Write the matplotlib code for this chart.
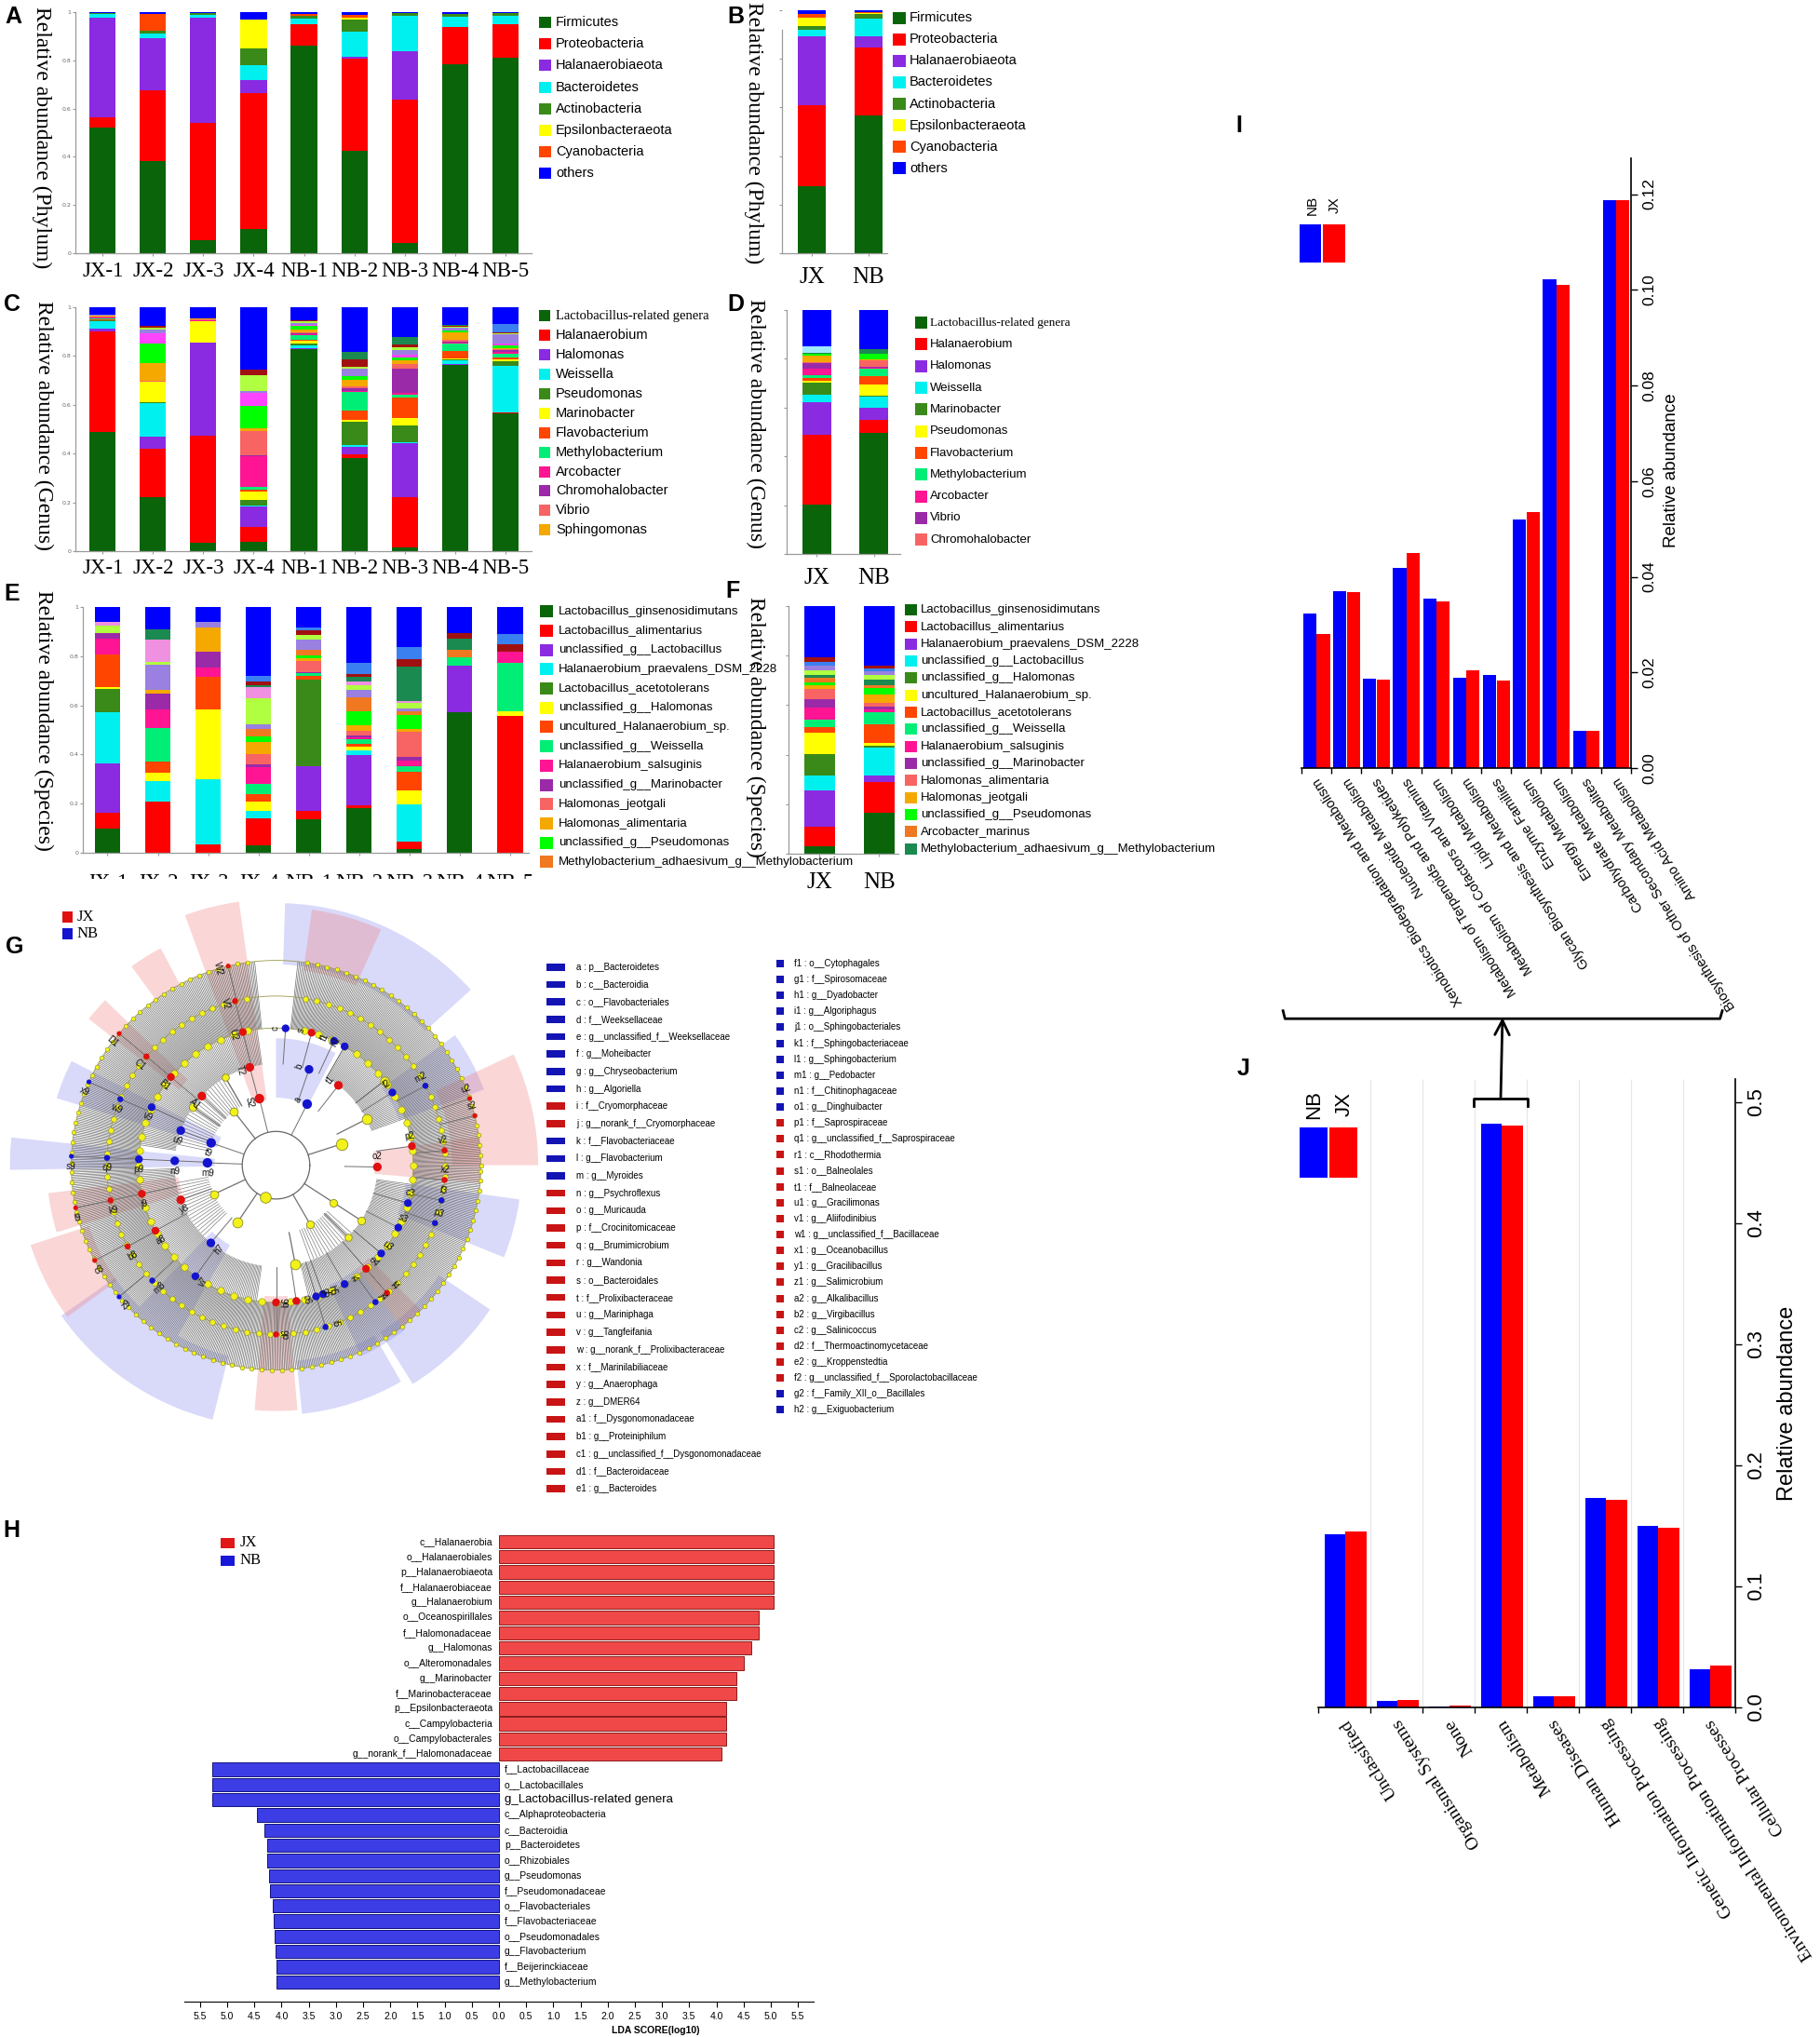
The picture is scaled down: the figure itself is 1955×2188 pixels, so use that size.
import numpy as np
import matplotlib
matplotlib.use("Agg")
import matplotlib.pyplot as plt
from matplotlib import font_manager
from matplotlib.patches import Rectangle
from matplotlib.lines import Line2D
from matplotlib.transforms import Bbox, TransformedBbox

# ---------------------------------------------------------------- colours
DG, RED, PUR, CYA = "#0a640a", "#ff0000", "#8a2be2", "#00f0f0"
OLV, YEL, ORR, SPG = "#3a8a1a", "#ffff00", "#ff4500", "#00ee76"
DPK, DMG, SAL, GLD = "#ff1493", "#9a2aa8", "#f86464", "#f5a800"
LIM, ORG, SEA, BLU = "#00ff00", "#f07820", "#1a8a50", "#0000ff"
LAV, GYL, PLM, DRD = "#9a80e0", "#b0ff40", "#f090e0", "#a01010"
DOD, LCY, MAG = "#3a80f0", "#a0e8ff", "#ff44ff"

# ---------------------------------------------------------------- data
samples = ["JX-1", "JX-2", "JX-3", "JX-4", "NB-1", "NB-2", "NB-3", "NB-4", "NB-5"]
groups = ["JX", "NB"]

# A / B : phylum
phylum_names = ["Firmicutes", "Proteobacteria", "Halanaerobiaeota", "Bacteroidetes",
                "Actinobacteria", "Epsilonbacteraeota", "Cyanobacteria", "others"]
phylum_colors = [DG, RED, PUR, CYA, OLV, YEL, ORR, BLU]
phylum_samples = [
    [0.520, 0.381, 0.054, 0.099, 0.861, 0.426, 0.043, 0.785, 0.810],
    [0.045, 0.294, 0.485, 0.566, 0.090, 0.380, 0.593, 0.153, 0.138],
    [0.410, 0.215, 0.438, 0.055, 0.000, 0.007, 0.200, 0.002, 0.000],
    [0.017, 0.022, 0.013, 0.061, 0.023, 0.106, 0.149, 0.039, 0.035],
    [0.003, 0.010, 0.005, 0.067, 0.009, 0.051, 0.010, 0.013, 0.013],
    [0.000, 0.000, 0.001, 0.120, 0.000, 0.007, 0.000, 0.000, 0.000],
    [0.002, 0.069, 0.002, 0.000, 0.011, 0.013, 0.002, 0.002, 0.002],
    [0.003, 0.009, 0.002, 0.032, 0.006, 0.010, 0.003, 0.006, 0.002],
]
phylum_groups = [  # columns: JX, NB
    [0.274, 0.567], [0.334, 0.280], [0.284, 0.047], [0.029, 0.070],
    [0.015, 0.021], [0.032, 0.002], [0.017, 0.005], [0.015, 0.008],
]

# C : genus by sample
genus_c_names = ["Lactobacillus-related genera", "Halanaerobium", "Halomonas", "Weissella",
                 "Pseudomonas", "Marinobacter", "Flavobacterium", "Methylobacterium",
                 "Arcobacter", "Chromohalobacter", "Vibrio", "Sphingomonas"]
genus_c_colors = [DG, RED, PUR, CYA, OLV, YEL, ORR, SPG, DPK, DMG, SAL, GLD]
genus_c_values = [
    [0.490, 0.220, 0.034, 0.040, 0.828, 0.382, 0.017, 0.765, 0.565],
    [0.410, 0.200, 0.440, 0.060, 0.002, 0.015, 0.205, 0.000, 0.002],
    [0.013, 0.050, 0.380, 0.085, 0.003, 0.030, 0.220, 0.003, 0.003],
    [0.030, 0.135, 0.000, 0.003, 0.012, 0.010, 0.003, 0.015, 0.190],
    [0.002, 0.005, 0.002, 0.022, 0.008, 0.095, 0.070, 0.004, 0.020],
    [0.003, 0.085, 0.085, 0.035, 0.010, 0.005, 0.030, 0.003, 0.005],
    [0.003, 0.000, 0.002, 0.008, 0.004, 0.040, 0.085, 0.030, 0.010],
    [0.004, 0.000, 0.000, 0.010, 0.020, 0.075, 0.012, 0.033, 0.015],
    [0.002, 0.000, 0.003, 0.125, 0.002, 0.005, 0.005, 0.002, 0.008],
    [0.002, 0.000, 0.000, 0.005, 0.003, 0.010, 0.100, 0.005, 0.005],
    [0.003, 0.005, 0.006, 0.100, 0.004, 0.010, 0.020, 0.008, 0.005],
    [0.003, 0.070, 0.003, 0.012, 0.012, 0.025, 0.015, 0.030, 0.005],
]
genus_c_minor_colors = [LIM, MAG, LAV, GYL, DRD, SEA, DOD]
genus_c_minor = [
    [0.002, 0.080, 0.000, 0.090, 0.015, 0.015, 0.012, 0.005, 0.012],
    [0.000, 0.045, 0.000, 0.055, 0.003, 0.000, 0.010, 0.003, 0.005],
    [0.003, 0.015, 0.000, 0.008, 0.010, 0.030, 0.020, 0.010, 0.040],
    [0.000, 0.005, 0.000, 0.065, 0.008, 0.010, 0.010, 0.003, 0.005],
    [0.000, 0.010, 0.000, 0.020, 0.003, 0.030, 0.015, 0.005, 0.003],
    [0.000, 0.000, 0.000, 0.000, 0.000, 0.030, 0.030, 0.005, 0.000],
    [0.000, 0.000, 0.000, 0.000, 0.000, 0.000, 0.000, 0.000, 0.035],
]
genus_c_others = [0.030, 0.075, 0.045, 0.257, 0.053, 0.183, 0.121, 0.071, 0.067]

# D : genus by group
genus_d_names = ["Lactobacillus-related genera", "Halanaerobium", "Halomonas", "Weissella",
                 "Marinobacter", "Pseudomonas", "Flavobacterium", "Methylobacterium",
                 "Arcobacter", "Vibrio", "Chromohalobacter"]
genus_d_colors = [DG, RED, PUR, CYA, OLV, YEL, ORR, SPG, DPK, DMG, SAL]
genus_d_values = [
    [0.204, 0.497], [0.284, 0.051], [0.134, 0.051], [0.032, 0.047],
    [0.047, 0.004], [0.010, 0.044], [0.012, 0.035], [0.008, 0.029],
    [0.030, 0.005], [0.020, 0.004], [0.005, 0.025],
]
genus_d_minor_colors = [GLD, LIM, SEA, LCY]
genus_d_minor = [[0.028, 0.004], [0.005, 0.026], [0.004, 0.019], [0.030, 0.000]]
genus_d_others = [0.147, 0.159]

# E : species by sample
species_e_names = ["Lactobacillus_ginsenosidimutans", "Lactobacillus_alimentarius",
                   "unclassified_g__Lactobacillus", "Halanaerobium_praevalens_DSM_2228",
                   "Lactobacillus_acetotolerans", "unclassified_g__Halomonas",
                   "uncultured_Halanaerobium_sp.", "unclassified_g__Weissella",
                   "Halanaerobium_salsuginis", "unclassified_g__Marinobacter",
                   "Halomonas_jeotgali", "Halomonas_alimentaria",
                   "unclassified_g__Pseudomonas",
                   "Methylobacterium_adhaesivum_g__Methylobacterium"]
species_e_colors = [DG, RED, PUR, CYA, OLV, YEL, ORR, SPG, DPK, DMG, SAL, GLD, LIM, ORG]
species_e_values = [
    [0.099, 0.000, 0.000, 0.029, 0.137, 0.180, 0.016, 0.573, 0.000],
    [0.063, 0.209, 0.035, 0.113, 0.035, 0.015, 0.030, 0.000, 0.556],
    [0.202, 0.000, 0.000, 0.000, 0.182, 0.203, 0.000, 0.189, 0.000],
    [0.209, 0.083, 0.266, 0.029, 0.000, 0.020, 0.152, 0.000, 0.000],
    [0.092, 0.000, 0.000, 0.000, 0.351, 0.000, 0.000, 0.000, 0.000],
    [0.009, 0.032, 0.281, 0.038, 0.000, 0.015, 0.057, 0.000, 0.019],
    [0.133, 0.046, 0.134, 0.030, 0.015, 0.010, 0.076, 0.000, 0.000],
    [0.000, 0.136, 0.000, 0.040, 0.010, 0.020, 0.020, 0.032, 0.197],
    [0.065, 0.076, 0.037, 0.070, 0.000, 0.005, 0.025, 0.000, 0.046],
    [0.023, 0.067, 0.066, 0.012, 0.005, 0.010, 0.015, 0.000, 0.000],
    [0.000, 0.000, 0.000, 0.040, 0.044, 0.020, 0.101, 0.000, 0.000],
    [0.000, 0.015, 0.098, 0.050, 0.013, 0.020, 0.010, 0.000, 0.000],
    [0.000, 0.000, 0.000, 0.023, 0.010, 0.057, 0.057, 0.000, 0.000],
    [0.000, 0.000, 0.000, 0.030, 0.025, 0.057, 0.015, 0.032, 0.000],
]
species_e_minor_colors = [LAV, GYL, PLM, SEA, DRD, DOD]
species_e_minor = [
    [0.000, 0.100, 0.023, 0.020, 0.040, 0.030, 0.015, 0.000, 0.000],
    [0.028, 0.012, 0.000, 0.104, 0.020, 0.020, 0.020, 0.000, 0.000],
    [0.017, 0.090, 0.000, 0.045, 0.000, 0.015, 0.010, 0.000, 0.000],
    [0.000, 0.043, 0.000, 0.010, 0.000, 0.020, 0.138, 0.044, 0.000],
    [0.000, 0.000, 0.000, 0.015, 0.020, 0.010, 0.030, 0.025, 0.031],
    [0.000, 0.000, 0.000, 0.020, 0.010, 0.044, 0.050, 0.000, 0.040],
]
species_e_others = [0.060, 0.091, 0.060, 0.282, 0.083, 0.229, 0.163, 0.105, 0.111]

# F : species by group
species_f_names = ["Lactobacillus_ginsenosidimutans", "Lactobacillus_alimentarius",
                   "Halanaerobium_praevalens_DSM_2228", "unclassified_g__Lactobacillus",
                   "unclassified_g__Halomonas", "uncultured_Halanaerobium_sp.",
                   "Lactobacillus_acetotolerans", "unclassified_g__Weissella",
                   "Halanaerobium_salsuginis", "unclassified_g__Marinobacter",
                   "Halomonas_alimentaria", "Halomonas_jeotgali",
                   "unclassified_g__Pseudomonas", "Arcobacter_marinus",
                   "Methylobacterium_adhaesivum_g__Methylobacterium"]
species_f_colors = [DG, RED, PUR, CYA, OLV, YEL, ORR, SPG, DPK, DMG, SAL, GLD, LIM, ORG, SEA]
species_f_values = [
    [0.031, 0.167], [0.078, 0.124], [0.148, 0.026], [0.059, 0.112], [0.085, 0.008],
    [0.086, 0.012], [0.025, 0.074], [0.030, 0.048], [0.048, 0.010], [0.035, 0.012],
    [0.040, 0.015], [0.015, 0.034], [0.012, 0.029], [0.020, 0.008], [0.008, 0.025],
]
species_f_minor_colors = [GYL, LAV, DOD, DRD]
species_f_minor = [[0.020, 0.018], [0.020, 0.015], [0.015, 0.010], [0.020, 0.012]]
species_f_others = [0.205, 0.241]

# G : LEfSe cladogram
clade_legend_a = [
    ("a : p__Bacteroidetes", "NB"), ("b : c__Bacteroidia", "NB"),
    ("c : o__Flavobacteriales", "NB"), ("d : f__Weeksellaceae", "NB"),
    ("e : g__unclassified_f__Weeksellaceae", "NB"), ("f : g__Moheibacter", "NB"),
    ("g : g__Chryseobacterium", "NB"), ("h : g__Algoriella", "NB"),
    ("i : f__Cryomorphaceae", "JX"), ("j : g__norank_f__Cryomorphaceae", "JX"),
    ("k : f__Flavobacteriaceae", "NB"), ("l : g__Flavobacterium", "NB"),
    ("m : g__Myroides", "NB"), ("n : g__Psychroflexus", "JX"),
    ("o : g__Muricauda", "JX"), ("p : f__Crocinitomicaceae", "JX"),
    ("q : g__Brumimicrobium", "JX"), ("r : g__Wandonia", "JX"),
    ("s : o__Bacteroidales", "JX"), ("t : f__Prolixibacteraceae", "JX"),
    ("u : g__Mariniphaga", "JX"), ("v : g__Tangfeifania", "JX"),
    ("w : g__norank_f__Prolixibacteraceae", "JX"), ("x : f__Marinilabiliaceae", "JX"),
    ("y : g__Anaerophaga", "JX"), ("z : g__DMER64", "JX"),
    ("a1 : f__Dysgonomonadaceae", "JX"), ("b1 : g__Proteiniphilum", "JX"),
    ("c1 : g__unclassified_f__Dysgonomonadaceae", "JX"), ("d1 : f__Bacteroidaceae", "JX"),
    ("e1 : g__Bacteroides", "JX"),
]
clade_legend_b = [
    ("f1 : o__Cytophagales", "NB"), ("g1 : f__Spirosomaceae", "NB"),
    ("h1 : g__Dyadobacter", "NB"), ("i1 : g__Algoriphagus", "NB"),
    ("j1 : o__Sphingobacteriales", "NB"), ("k1 : f__Sphingobacteriaceae", "NB"),
    ("l1 : g__Sphingobacterium", "NB"), ("m1 : g__Pedobacter", "NB"),
    ("n1 : f__Chitinophagaceae", "NB"), ("o1 : g__Dinghuibacter", "NB"),
    ("p1 : f__Saprospiraceae", "JX"), ("q1 : g__unclassified_f__Saprospiraceae", "JX"),
    ("r1 : c__Rhodothermia", "JX"), ("s1 : o__Balneolales", "JX"),
    ("t1 : f__Balneolaceae", "JX"), ("u1 : g__Gracilimonas", "JX"),
    ("v1 : g__Aliifodinibius", "JX"), ("w1 : g__unclassified_f__Bacillaceae", "JX"),
    ("x1 : g__Oceanobacillus", "JX"), ("y1 : g__Gracilibacillus", "JX"),
    ("z1 : g__Salimicrobium", "JX"), ("a2 : g__Alkalibacillus", "JX"),
    ("b2 : g__Virgibacillus", "JX"), ("c2 : g__Salinicoccus", "JX"),
    ("d2 : f__Thermoactinomycetaceae", "JX"), ("e2 : g__Kroppenstedtia", "JX"),
    ("f2 : g__unclassified_f__Sporolactobacillaceae", "JX"),
    ("g2 : f__Family_XII_o__Bacillales", "NB"), ("h2 : g__Exiguobacterium", "NB"),
]
# shaded clade sectors: start deg, end deg, inner r, outer r, group
clade_wedges = [
    (62, 90, 0.33, 0.62, "NB"), (42, 88, 0.98, 1.28, "NB"), (20, 36, 0.64, 1.08, "NB"),
    (174, 181, 0.30, 1.30, "NB"), (153, 163, 0.30, 1.12, "NB"), (215, 256, 0.96, 1.28, "NB"),
    (226, 240, 0.45, 0.96, "NB"), (276, 300, 0.96, 1.22, "NB"), (302, 326, 0.96, 1.26, "NB"),
    (-22, -8, 0.64, 1.20, "NB"), (-66, -52, 0.64, 1.02, "NB"),
    (-5, 8, 0.48, 1.00, "JX"), (0, 25, 0.86, 1.28, "JX"), (98, 110, 0.32, 1.30, "JX"),
    (66, 82, 0.96, 1.26, "JX"), (187, 197, 0.48, 1.12, "JX"), (198, 216, 0.96, 1.26, "JX"),
    (265, 275, 0.64, 1.20, "JX"), (136, 142, 0.60, 1.16, "JX"), (118, 126, 1.00, 1.20, "JX"),
    (-52, -45, 0.64, 1.00, "JX"),
]
# highlighted biomarkers: label, angle deg, taxonomic level, group
clade_nodes = [
    ("a", 63, 1, "NB"), ("b", 71, 2, "NB"), ("c", 86, 3, "NB"), ("f1", 65, 3, "NB"),
    ("h1", 60, 3, "NB"), ("m2", 28, 4, "NB"), ("f2", 32, 3, "NB"), ("c3", -16, 3, "NB"),
    ("f3", -12, 4, "NB"), ("s3", -27, 3, "NB"), ("p3", -20, 4, "NB"), ("u3", -40, 3, "NB"),
    ("i4", -60, 3, "NB"), ("j4", -54, 4, "NB"), ("h7", 230, 2, "NB"), ("v7", 234, 3, "NB"),
    ("m8", 223, 4, "NB"), ("m9", 178, 1, "NB"), ("n9", 177.5, 2, "NB"), ("p9", 177.5, 3, "NB"),
    ("q9", 177.5, 4, "NB"), ("s9", 177.5, 5, "NB"), ("t9", 161, 1, "NB"), ("u9", 160, 2, "NB"),
    ("v9", 155, 3, "NB"), ("w9", 157, 4, "NB"), ("x9", 156, 5, "NB"), ("g5", -73, 3, "NB"),
    ("h5", -70, 3, "NB"), ("i5", -73, 4, "NB"), ("z9", 220, 5, "NB"),
    ("o2", -1, 2, "JX"), ("p2", 8, 3, "JX"), ("v2", 5, 4, "JX"), ("x2", -5, 4, "JX"),
    ("s2", 14, 5, "JX"), ("u2", 19, 5, "JX"), ("y8", 200, 2, "JX"), ("j9", 192, 3, "JX"),
    ("k9", 192, 4, "JX"), ("l9", 192, 5, "JX"), ("S2", 104, 1, "JX"), ("T2", 105, 2, "JX"),
    ("U2", 104, 3, "JX"), ("V2", 104, 4, "JX"), ("W2", 103.5, 5, "JX"), ("s", 75, 3, "JX"),
    ("t1", 52, 2, "JX"), ("b6", 270, 3, "JX"), ("c6", 278.5, 3, "JX"), ("d6", 270, 4, "JX"),
    ("e4", -49, 3, "JX"), ("f4", -49, 4, "JX"), ("a8", 208.5, 3, "JX"), ("b8", 208.7, 4, "JX"),
    ("c8", 207.7, 5, "JX"), ("A1", 137, 2, "JX"), ("B1", 140, 3, "JX"), ("C1", 140, 4, "JX"),
    ("D1", 140, 5, "JX"),
]
# non-significant internal nodes: angle deg, level, marker size
yellow_nodes = [(18, 1, 80), (27, 2, 60), (38, 3, 45), (252, 0, 70), (236, 1, 60),
                (281, 2, 60), (327, 1, 35), (327, 2, 35), (128, 1, 40), (145, 2, 35),
                (300, 1, 35), (205, 1, 40), (120, 2, 30), (315, 2, 30)]

# H : LDA scores
lda_jx_names = ["c__Halanaerobia", "o__Halanaerobiales", "p__Halanaerobiaeota",
                "f__Halanaerobiaceae", "g__Halanaerobium", "o__Oceanospirillales",
                "f__Halomonadaceae", "g__Halomonas", "o__Alteromonadales", "g__Marinobacter",
                "f__Marinobacteraceae", "p__Epsilonbacteraeota", "c__Campylobacteria",
                "o__Campylobacterales", "g__norank_f__Halomonadaceae"]
lda_jx_scores = [5.05, 5.05, 5.05, 5.05, 5.05, 4.78, 4.78, 4.64, 4.51, 4.36,
                 4.36, 4.18, 4.18, 4.18, 4.10]
lda_nb_names = ["f__Lactobacillaceae", "o__Lactobacillales", "g_Lactobacillus-related genera",
                "c__Alphaproteobacteria", "c__Bacteroidia", "p__Bacteroidetes",
                "o__Rhizobiales", "g__Pseudomonas", "f__Pseudomonadaceae",
                "o__Flavobacteriales", "f__Flavobacteriaceae", "o__Pseudomonadales",
                "g__Flavobacterium", "f__Beijerinckiaceae", "g__Methylobacterium"]
lda_nb_scores = [5.27, 5.27, 5.27, 4.45, 4.31, 4.27, 4.26, 4.23, 4.22, 4.17,
                 4.14, 4.13, 4.11, 4.10, 4.09]

# I : KEGG level 2 (metabolism)
kegg2_names = ["Xenobiotics Biodegradation and Metabolism", "Nucleotide Metabolism",
               "Metabolism of Terpenoids and Polyketides", "Metabolism of Cofactors and Vitamins",
               "Lipid Metabolism", "Glycan Biosynthesis and Metabolism", "Enzyme Families",
               "Energy Metabolism", "Carbohydrate Metabolism",
               "Biosynthesis of Other Secondary Metabolites", "Amino Acid Metabolism"]
kegg2_nb = [0.0323, 0.0369, 0.0187, 0.0419, 0.0354, 0.0189, 0.0195, 0.0520, 0.1022, 0.0077, 0.1187]
kegg2_jx = [0.0280, 0.0367, 0.0184, 0.0450, 0.0348, 0.0205, 0.0183, 0.0536, 0.1011, 0.0077, 0.1187]

# J : KEGG level 1
kegg1_names = ["Unclassified", "Organismal Systems", "None", "Metabolism", "Human Diseases",
               "Genetic Information Processing", "Environmental Information Processing",
               "Cellular Processes"]
kegg1_nb = [0.1428, 0.0053, 0.0010, 0.4824, 0.0096, 0.1733, 0.1503, 0.0316]
kegg1_jx = [0.1455, 0.0059, 0.0016, 0.4802, 0.0091, 0.1717, 0.1481, 0.0348]

# ---------------------------------------------------------------- fonts / helpers
installed = {f.name for f in font_manager.fontManager.ttflist}
SERIF = ["Liberation Serif", "DejaVu Serif"]
SANS = ["Liberation Sans", "DejaVu Sans"]
if "Liberation Sans Narrow" in installed:
    NARROW, H_FS, H_BIG = ["Liberation Sans Narrow", "DejaVu Sans"], 9, 11.5
else:
    NARROW, H_FS, H_BIG = SANS, 7.5, 9.5

W, H = 1955, 2188
fig = plt.figure(figsize=(W / 100, H / 100), dpi=100)
fig.patch.set_facecolor("white")


def add_ax(l, t, r, b, **kw):
    return fig.add_axes([l / W, 1 - b / H, (r - l) / W, (b - t) / H], **kw)


def ftext(x, y, s, **kw):
    return fig.text(x / W, 1 - y / H, s, **kw)


def fbox(x, y, w, h, color):
    fig.add_artist(Rectangle((x / W, 1 - (y + h) / H), w / W, h / H,
                             transform=fig.transFigure, facecolor=color, edgecolor="none"))


def legend_block(names, colors, sq_x, sq_w, sq_h, text_x, y0, step, fs, fams):
    for i, (name, col) in enumerate(zip(names, colors)):
        y = y0 + i * step
        fbox(sq_x, y - sq_h / 2, sq_w, sq_h, col)
        ftext(text_x, y, name, fontsize=fs, family=fams[i], ha="left", va="center")


def panel_letter(x, y, s):
    ftext(x, y, s, fontsize=18, fontweight="bold", family=SANS, ha="center", va="center")


def stacked(box, xlim, table, colors, xlabels, width, pad, spine_top=1.0, ylabels=True,
            xfs=18):
    ax = add_ax(*box)
    x = np.arange(len(xlabels))
    base = np.zeros(len(xlabels))
    for row, col in zip(table, colors):
        row = np.asarray(row, float)
        ax.bar(x, row, width, bottom=base, color=col, linewidth=0)
        base += row
    ax.set_xlim(*xlim)
    ax.set_ylim(0, 1.0)
    for s in ("top", "right"):
        ax.spines[s].set_visible(False)
    for s in ("left", "bottom"):
        ax.spines[s].set_color("#9a9a9a")
        ax.spines[s].set_linewidth(0.9)
    ax.spines["left"].set_bounds(0, spine_top)
    ax.set_xticks(x)
    ax.set_xticklabels(xlabels, fontsize=xfs, family=SERIF)
    ax.tick_params(axis="x", length=2.5, color="#9a9a9a", pad=pad)
    ax.set_yticks([0, 0.2, 0.4, 0.6, 0.8, 1.0])
    if ylabels:
        ax.set_yticklabels(["0", "0.2", "0.4", "0.6", "0.8", "1"], fontsize=4.5, color="#666666")
    else:
        ax.set_yticklabels([""] * 6)
    ax.tick_params(axis="y", length=2, color="#9a9a9a", pad=1.5)
    return ax


def ylabel_serif(x, y, s):
    ftext(x, y, s, fontsize=17, family=SERIF, rotation=-90, ha="center", va="center")


# ---------------------------------------------------------------- A
panel_letter(14, 18, "A")
stacked((81, 13, 571, 272), (-0.54, 8.52), phylum_samples, phylum_colors, samples, 0.52, 4,
        xfs=16.5)
ylabel_serif(45, 148, "Relative abundance (Phylum)")
legend_block(phylum_names, phylum_colors, 579, 13, 12, 597, 24, 23.2, 10.5, [SANS] * 8)

# ---------------------------------------------------------------- B
panel_letter(790, 18, "B")
stacked((840, 11, 953, 272), (-0.53, 1.33), phylum_groups, phylum_colors, groups, 0.5, 8,
        spine_top=0.92, ylabels=False)
ylabel_serif(810, 143, "Relative abundance (Phylum)")
legend_block(phylum_names, phylum_colors, 959, 14, 13, 977, 19.3, 23.05, 10.5, [SANS] * 8)

# ---------------------------------------------------------------- C
panel_letter(13, 327, "C")
stacked((81, 330, 571, 592), (-0.54, 8.52),
        genus_c_values + genus_c_minor + [genus_c_others],
        genus_c_colors + genus_c_minor_colors + [BLU], samples, 0.52, 3, xfs=16.5)
ylabel_serif(47, 457, "Relative abundance (Genus)")
legend_block(genus_c_names, genus_c_colors, 579, 12, 12, 597, 339.3, 20.9, 10.5,
             [SERIF] + [SANS] * 11)

# ---------------------------------------------------------------- D
panel_letter(790, 327, "D")
stacked((845, 333, 967, 595), (-0.53, 1.46),
        genus_d_values + genus_d_minor + [genus_d_others],
        genus_d_colors + genus_d_minor_colors + [BLU], groups, 0.51, 8, ylabels=False)
ylabel_serif(812, 455, "Relative abundance (Genus)")
legend_block(genus_d_names, genus_d_colors, 983, 13, 13, 999, 346.7, 23.3, 9.5,
             [SERIF] + [SANS] * 10)

# ---------------------------------------------------------------- E
panel_letter(13, 638, "E")
ax_e = stacked((89, 652, 568, 916), (-0.49, 8.37),
               species_e_values + species_e_minor + [species_e_others],
               species_e_colors + species_e_minor_colors + [BLU], samples, 0.5, 13, xfs=16.5)
clip = TransformedBbox(Bbox.from_extents(0, 1 - 944 / H, 1, 1), fig.transFigure)
for lab in ax_e.get_xticklabels():
    lab.set_clip_box(clip)
    lab.set_clip_on(True)
ylabel_serif(47, 774, "Relative abundance (Species)")
legend_block(species_e_names, species_e_colors, 580, 14, 13, 600, 656.7, 20.7, 9.5, [SANS] * 14)

# ---------------------------------------------------------------- F
panel_letter(787, 635, "F")
stacked((847, 651, 965, 917), (-0.52, 1.32),
        species_f_values + species_f_minor + [species_f_others],
        species_f_colors + species_f_minor_colors + [BLU], groups, 0.51, 12, ylabels=False)
ylabel_serif(812, 781, "Relative abundance (Species)")
legend_block(species_f_names, species_f_colors, 972, 13, 12, 989, 655, 18.33, 9.5, [SANS] * 15)

# ---------------------------------------------------------------- G (cladogram)
panel_letter(16, 1017, "G")
GROUP_FILL = {"JX": "#f08080", "NB": "#8a8af0"}
GROUP_NODE = {"JX": "#e01010", "NB": "#1414d0"}
LEVEL_R = [0.165, 0.335, 0.495, 0.67, 0.826, 1.0]
NODE_S = {0: 70, 1: 55, 2: 45, 3: 36, 4: 22, 5: 14}

gax = add_ax(10.5, 965.6, 582.5, 1537.6, projection="polar")
gax.set_ylim(0, 1.3)
gax.set_axis_off()

for a0, a1, r0, r1, grp in clade_wedges:
    gax.bar(np.deg2rad((a0 + a1) / 2), r1 - r0, width=np.deg2rad(a1 - a0), bottom=r0,
            color=GROUP_FILL[grp], alpha=0.32, linewidth=0, zorder=1)

# leaf lines of the taxonomic tree
outer_leaves = np.deg2rad(np.arange(96, 444, 0.45))
gax.vlines(outer_leaves, LEVEL_R[3], LEVEL_R[5], color="#6e6e6e", lw=0.5, zorder=2)
for s0, s1 in [(98, 172), (182, 262), (284, 352), (20, 60)]:
    gax.vlines(np.deg2rad(np.arange(s0, s1, 0.7)), LEVEL_R[2], LEVEL_R[3],
               color="#7a7a7a", lw=0.5, zorder=2)
for s0, s1 in [(120, 170), (190, 225), (290, 320)]:
    gax.vlines(np.deg2rad(np.arange(s0, s1, 2.0)), LEVEL_R[1], LEVEL_R[2],
               color="#808080", lw=0.5, zorder=2)
ring = np.linspace(0, 2 * np.pi, 400)
gax.plot(ring, np.full_like(ring, LEVEL_R[0]), color="#666666", lw=0.9, zorder=3)
for r in LEVEL_R[3:]:
    gax.plot(ring, np.full_like(ring, r), color="#9a9a50", lw=0.6, zorder=3)

# skeleton branches to the internal nodes and biomarkers
for ang, lvl, _ in yellow_nodes:
    if lvl > 0:
        gax.plot([np.deg2rad(ang)] * 2, [LEVEL_R[lvl - 1], LEVEL_R[lvl]], color="#707070",
                 lw=0.9, zorder=3)
for _, ang, lvl, _ in clade_nodes:
    gax.plot([np.deg2rad(ang)] * 2, [LEVEL_R[lvl - 1], LEVEL_R[lvl]], color="#707070",
             lw=0.7, zorder=3)

# small non-significant nodes on the outer rings
for lvl, step in [(3, 6.0), (4, 4.0), (5, 2.8)]:
    th = np.arange(0, 360, step)
    th = th[(th < 84) | (th > 96)]
    gax.scatter(np.deg2rad(th), np.full(len(th), LEVEL_R[lvl]), s=NODE_S[lvl] * 0.8,
                facecolor="#f2f21a", edgecolor="#8c8c2a", linewidth=0.4, zorder=4)
for ang, lvl, size in yellow_nodes:
    gax.scatter([np.deg2rad(ang)], [LEVEL_R[lvl]], s=size, facecolor="#f2f21a",
                edgecolor="#8c8c2a", linewidth=0.6, zorder=5)

for lab, ang, lvl, grp in clade_nodes:
    th = np.deg2rad(ang)
    r = LEVEL_R[lvl]
    gax.scatter([th], [r], s=NODE_S[lvl], color=GROUP_NODE[grp], edgecolor="none", zorder=6)
    rot = ang if -90 <= ang <= 90 or ang > 270 else ang - 180
    gax.text(th + 0.05 / r, r, lab, fontsize=7, family=SANS, color="#111111",
             rotation=rot, rotation_mode="anchor", ha="center", va="center", zorder=7)

# group key of the cladogram
fbox(67, 979, 11, 12, "#e01010")
fbox(67, 997, 11, 12, "#1414d0")
ftext(83, 985, "JX", fontsize=12, family=SERIF, va="center")
ftext(83, 1003, "NB", fontsize=12, family=SERIF, va="center")

LIST_COL = {"JX": "#c81414", "NB": "#1414b4"}
legend_block([n for n, _ in clade_legend_a], [LIST_COL[g] for _, g in clade_legend_a],
             587, 20, 7.5, 619, 1038.8, 18.68, 7, [SANS] * len(clade_legend_a))
legend_block([n for n, _ in clade_legend_b], [LIST_COL[g] for _, g in clade_legend_b],
             834, 8, 8, 853, 1035, 17.12, 7, [SANS] * len(clade_legend_b))

# ---------------------------------------------------------------- H (LDA)
panel_letter(12, 1644, "H")
ax_h = add_ax(198, 1640, 874, 2150)
n_jx = len(lda_jx_scores)
rows_jx = np.arange(n_jx)
rows_nb = np.arange(len(lda_nb_scores)) + n_jx
ax_h.barh(rows_jx, lda_jx_scores, height=0.88, color="#f04848", edgecolor="#8a1a1a", lw=0.7)
ax_h.barh(rows_nb, -np.asarray(lda_nb_scores), height=0.88, color="#3d3de6",
          edgecolor="#12127a", lw=0.7)
for row, name in zip(rows_jx, lda_jx_names):
    ax_h.text(-0.12, row, name, ha="right", va="center", fontsize=H_FS, family=NARROW)
for row, name in zip(rows_nb, lda_nb_names):
    big = "related" in name
    ax_h.text(0.1, row, name, ha="left", va="center", fontsize=H_BIG if big else H_FS,
              family=NARROW)
ax_h.set_xlim(-5.79, 5.79)
ax_h.set_ylim(30.3, -0.98)
for s in ("top", "right", "left"):
    ax_h.spines[s].set_visible(False)
ax_h.spines["bottom"].set_linewidth(0.8)
xt = np.arange(-5.5, 5.51, 0.5)
ax_h.set_xticks(xt)
ax_h.set_xticklabels([f"{abs(v):.1f}" for v in xt], fontsize=H_FS, family=NARROW)
ax_h.tick_params(axis="x", length=4, width=0.8, pad=4)
ax_h.set_yticks([])
ftext(704, 2181, "LDA SCORE(log10)", fontsize=H_FS, family=NARROW, fontweight="bold",
      ha="center", va="center")
fbox(237, 1652, 15, 11, "#e01818")
fbox(237, 1671, 15, 11, "#1818d8")
ftext(258, 1657, "JX", fontsize=12, family=SERIF, va="center")
ftext(258, 1676, "NB", fontsize=12, family=SERIF, va="center")


# ---------------------------------------------------------------- I / J (KEGG)
def kegg_axes(box, names, nb, jx, ylim, yticks, ytick_fmt, tick_fs, lab_fs, lab_fam, lab_pad,
              w, nb_off, jx_off, grid=False):
    ax = add_ax(*box)
    x = np.arange(len(names))
    if grid:
        ax.vlines(np.arange(0.5, len(names) - 0.5, 1), 0, ylim, color="#e6e6e6", lw=0.8, zorder=0)
    ax.bar(x + nb_off, nb, w, color="#0000ff", linewidth=0, zorder=2)
    ax.bar(x + jx_off, jx, w, color="#ff0000", linewidth=0, zorder=2)
    ax.set_xlim(-0.5, len(names) - 0.5)
    ax.set_ylim(0, ylim)
    for s in ("top", "left"):
        ax.spines[s].set_visible(False)
    for s in ("right", "bottom"):
        ax.spines[s].set_linewidth(1.2)
    ax.yaxis.tick_right()
    ax.set_yticks(yticks)
    ax.set_yticklabels([ytick_fmt.format(v) for v in yticks], fontsize=tick_fs, family=SANS,
                       rotation=90, va="center")
    ax.tick_params(axis="y", length=5, width=1, pad=4)
    ax.set_xticks(x)
    ax.set_xticklabels(names, rotation=122.5, ha="right", va="center", rotation_mode="anchor",
                       fontsize=lab_fs, family=lab_fam)
    ax.tick_params(axis="x", length=0, pad=lab_pad)
    ax.set_xticks(np.arange(-0.5, len(names), 1), minor=True)
    ax.tick_params(axis="x", which="minor", length=4, width=1)
    return ax


panel_letter(1331, 135, "I")
ax_i = kegg_axes((1398, 170, 1752, 825), kegg2_names, kegg2_nb, kegg2_jx, 0.1275,
                 np.arange(0, 0.121, 0.02), "{:.2f}", 12.5, 10.5, SANS, 8, 0.44, -0.22, 0.23)
ftext(1796, 505, "Relative abundance", fontsize=13.5, family=SANS, rotation=90,
      ha="center", va="center")
fbox(1396, 240.6, 23, 41.4, "#0000ff")
fbox(1421, 240.6, 24, 41.4, "#ff0000")
ftext(1410, 220, "NB", fontsize=11, family=SANS, rotation=90, ha="center", va="center")
ftext(1434, 220, "JX", fontsize=11, family=SANS, rotation=90, ha="center", va="center")

panel_letter(1336, 1148, "J")
ax_j = kegg_axes((1416, 1159, 1864, 1834), kegg1_names, kegg1_nb, kegg1_jx, 0.519,
                 np.arange(0, 0.51, 0.1), "{:.1f}", 16, 14, SERIF, 10, 0.40, -0.18, 0.22,
                 grid=True)
ftext(1920, 1507, "Relative abundance", fontsize=17, family=SANS, rotation=90,
      ha="center", va="center")
fbox(1396, 1211, 30, 54, "#0000ff")
fbox(1428, 1211, 30, 54, "#ff0000")
ftext(1412, 1186, "NB", fontsize=16, family=SANS, rotation=90, ha="center", va="center")
ftext(1444, 1186, "JX", fontsize=16, family=SANS, rotation=90, ha="center", va="center")

# brace under panel I, bracket over Metabolism in J and the arrow linking them
meta = kegg1_names.index("Metabolism")
ax_i.add_line(Line2D([-0.056, -0.05, 1.27, 1.277], [-0.398, -0.411, -0.411, -0.398],
                     transform=ax_i.transAxes, color="black", lw=2, clip_on=False))
ax_j.add_line(Line2D([meta - 0.52, meta - 0.52, meta + 0.52, meta + 0.52],
                     [0.4965, 0.503, 0.503, 0.4965], color="black", lw=2, clip_on=False))
ax_j.annotate("", xy=(0.61, -0.409), xycoords=ax_i.transAxes, xytext=(meta, 0.503),
              textcoords="data", arrowprops=dict(arrowstyle="->", lw=2, color="black",
                                                  mutation_scale=28, shrinkA=0, shrinkB=0))

fig.savefig("out.png", dpi=100, facecolor="white")
